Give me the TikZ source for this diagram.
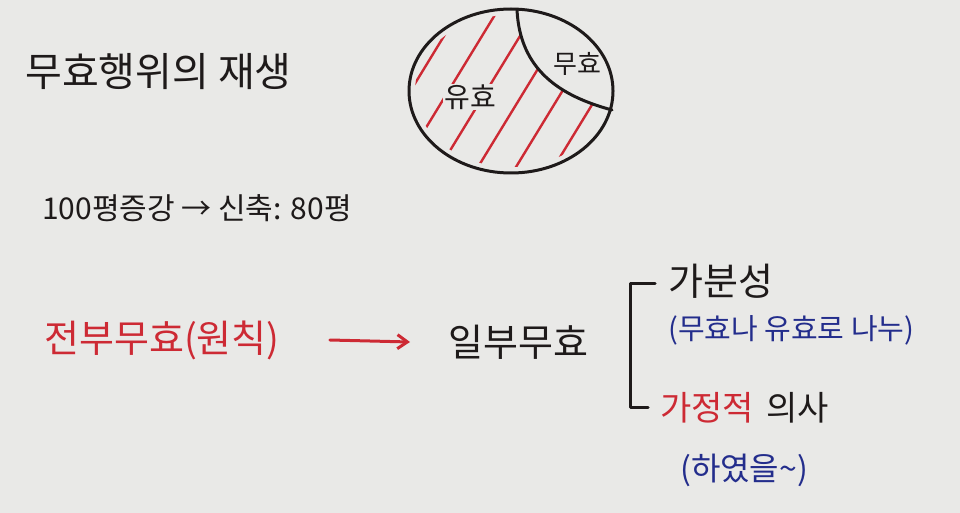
\documentclass[tikz,border=0pt]{standalone}
\usepackage{fontspec}
\newfontfamily\kr{Noto Sans CJK KR}
\usetikzlibrary{arrows.meta,positioning,calc}

\definecolor{paper}{RGB}{233,233,231}
\definecolor{ink}{RGB}{30,26,26}
\definecolor{redpen}{RGB}{205,42,52}
\definecolor{bluepen}{RGB}{35,45,140}
\newcommand{\fsz}[1]{\fontsize{#1}{#1}\selectfont}

\tikzset{
  hand/.style={font=\kr, text=ink, anchor=west, inner sep=0pt},
  pen/.style={draw=ink, line width=3pt, line cap=round, line join=round},
  hatch/.style={draw=redpen, line width=2.4pt, line cap=round},
}

\begin{document}
\begin{tikzpicture}[x=1pt, y=-1pt]
          % Paper
          \fill[paper] (0,0) rectangle (960,513);
          \useasboundingbox (0,0) rectangle (960,513);

          % Title
          \node[hand, font=\kr\fsz{40}] (title) at (25,72) {무효행위의 재생};

          % Circle with valid / invalid part
          \coordinate (C) at (511,91);
          \coordinate (cuttop) at (517,10);
          \coordinate (cutright) at (612,110);
          \begin{scope}
            \clip (C) ellipse [x radius=96, y radius=76];
            \clip (cuttop) .. controls (520,70) and (560,96) .. (cutright)
                  -- (640,200) -- (380,200) -- (380,0) -- cycle;
            \foreach \s in {0,...,8}
              \draw[hatch] (315+\s*38,185) -- +(113,-185);
          \end{scope}
          \draw[pen] (C) ellipse [x radius=102, y radius=82];
          \draw[pen] (cuttop) .. controls (520,70) and (560,96) .. (cutright);
          \node[hand, font=\kr\fsz{26}, anchor=center] (invalid) at (577,64) {무효};
          \node[hand, font=\kr\fsz{28}, anchor=center, fill=paper, inner sep=1pt] (valid) at (470,97) {유효};

          % Example
          \node[hand, font=\kr\fsz{30}] (example) at (42,208) {100평증강 → 신축: 80평};

          % Whole -> partial invalidity
          \node[hand, font=\kr\fsz{38}, text=redpen] (whole) at (44,340) {전부무효(원칙)};
          \node[hand, font=\kr\fsz{38}] (partial) at (448,342) {일부무효};
          \draw[redpen, line width=3pt, line cap=round, -{Straight Barb[length=10pt,width=14pt]}]
               ([xshift=50]whole.east) -- ([xshift=-38]partial.west);

          % Bracket
          \coordinate (brtop) at (630,283);
          \coordinate (brbot) at (630,407);
          \draw[pen] ($(brtop)+(25,0)$) -- (brtop) -- (brbot) -- ($(brbot)+(18,0)$);

          % Two conditions
          \node[hand, font=\kr\fsz{38}] (divisible) at (668,281) {가분성};
          \node[hand, font=\kr\fsz{29}, text=bluepen] (divnote) at (668,330) {(무효나 유효로 나누)};
          \node[hand, font=\kr\fsz{34}, text=redpen] (hypo) at (660,408) {가정적};
          \node[hand, font=\kr\fsz{34}, right=12pt of hypo] (intent) {의사};
          \node[hand, font=\kr\fsz{32}, text=bluepen] (hyponote) at (680,470) {(하였을\textasciitilde)};
\end{tikzpicture}
\end{document}
